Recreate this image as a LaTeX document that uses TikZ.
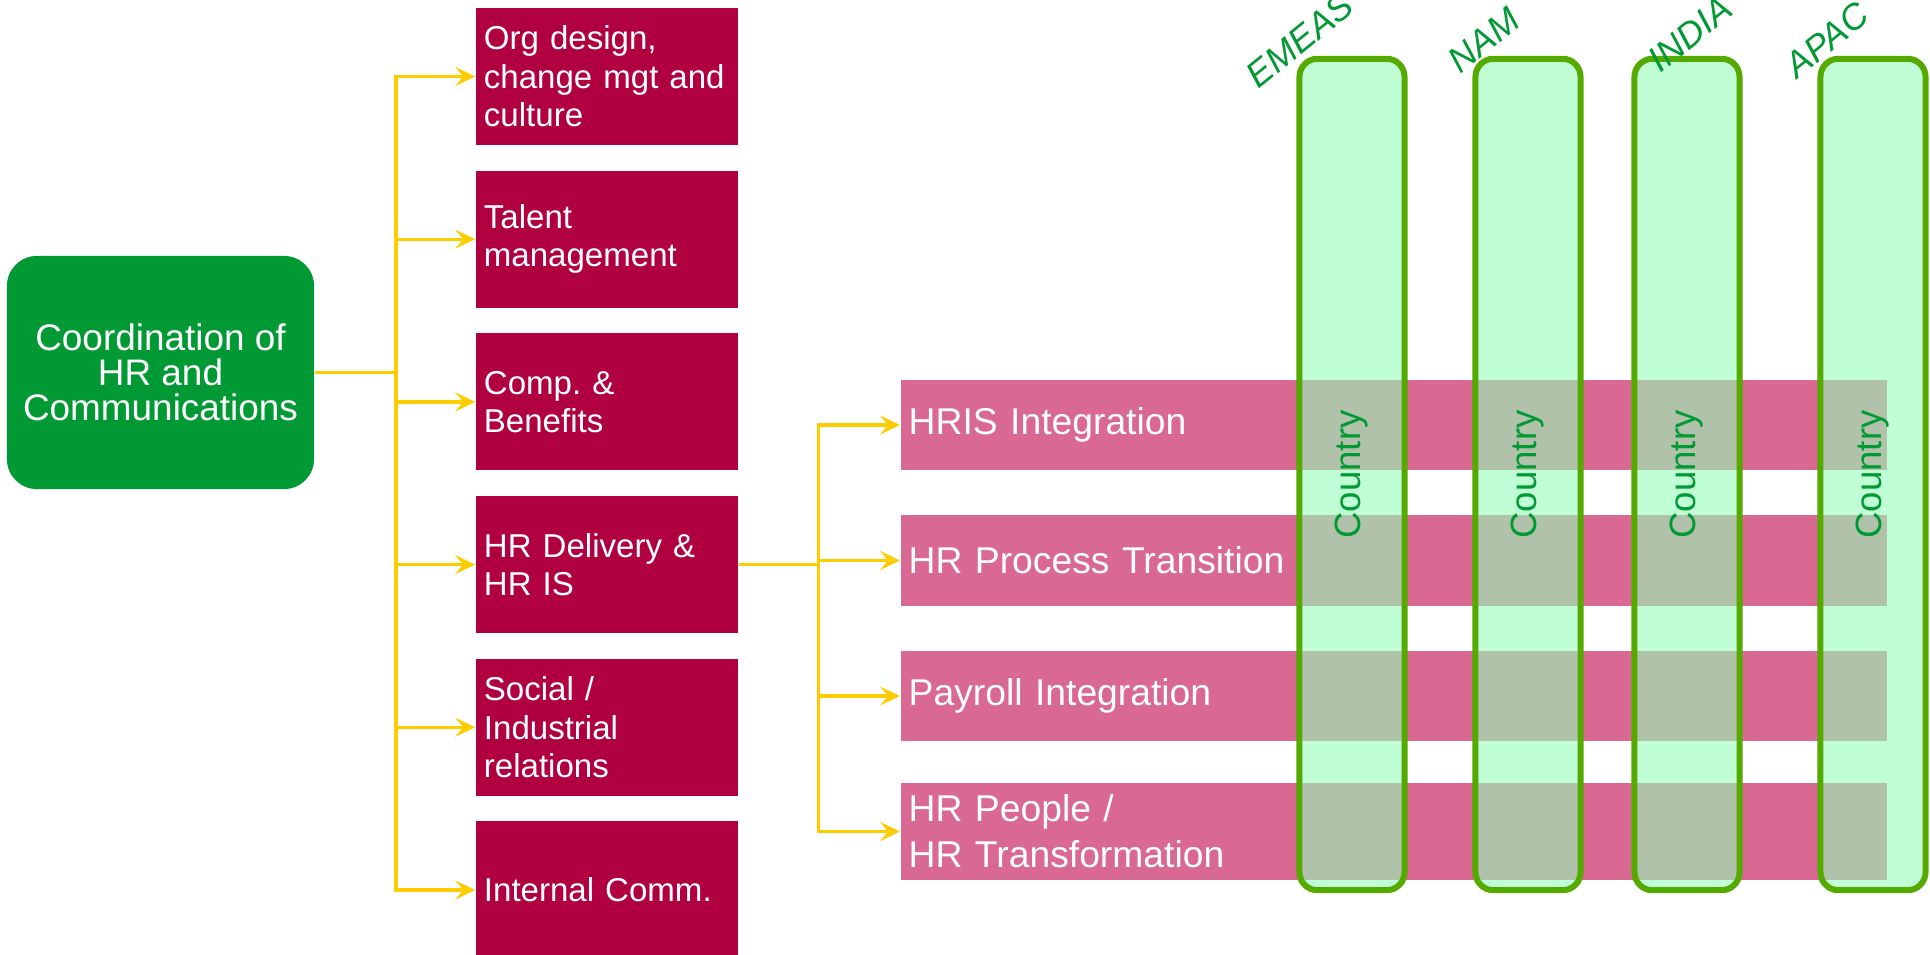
\documentclass[tikz,border=0pt]{standalone}
\usepackage{fontspec}
\setmainfont{Liberation Sans}
\usetikzlibrary{arrows.meta}
\definecolor{hrgreen}{RGB}{0,153,51}
\definecolor{boxred}{RGB}{176,0,64}
\definecolor{barpink}{RGB}{217,104,147}
\definecolor{colfill}{RGB}{150,255,185}
\definecolor{colline}{RGB}{85,170,0}
\definecolor{arrowyellow}{RGB}{255,204,0}
\frenchspacing
\begin{document}
\begin{tikzpicture}[x=0.01cm, y=-0.01cm,
	wire/.style={draw=arrowyellow, line width=0.033cm},
	feed/.style={wire, -{Stealth[length=0.2cm, width=0.19cm, inset=0.08cm]}},
	topic/.style={fill=boxred, text=white, minimum width=2.62cm, minimum height=1.37cm, text width=2.46cm, inner xsep=0.08cm, align=left, font=\fontsize{9.4}{10.95}\selectfont},
	stream/.style={fill=barpink, text=white, minimum width=9.86cm, minimum height=0.9cm, text width=9.7cm, inner xsep=0.08cm, align=left, font=\fontsize{10.6}{13}\selectfont},
	regioncol/.style={rotate=90, minimum width=8.31cm, minimum height=1.05cm, rounded corners=0.18cm, draw=colline, line width=0.06cm, fill=colfill, fill opacity=0.6, text opacity=1, text=hrgreen, font=\fontsize{10.4}{12}\selectfont},
	tag/.style={rotate=39, inner sep=0pt, text=hrgreen, font=\fontsize{10.2}{11}\selectfont\itshape}]
	\useasboundingbox (0,0) rectangle (1930,955);
	\node (hr) [rounded corners=0.3cm, fill=hrgreen, text=white, minimum width=3.07cm, minimum height=2.33cm, align=center, font=\fontsize{10.5}{10}\selectfont] at (160.5,372.5) {Coordination of\\HR and\\Communications};
	\foreach \i/\txt in {1/{Org design,\\change mgt and\\culture}, 2/{Talent\\management}, 3/{Comp. \&\\Benefits}, 4/{HR Delivery \&\\HR IS}, 5/{Social /\\Industrial\\relations}, 6/{Internal Comm.}} {
		\node (t\i) [topic] at (607, {76.5+162.7*(\i-1)}) {\txt};
	}
	\coordinate (hub) at (396,372.5);
	\draw[wire] (hr.east) -- (hub);
	\foreach \i in {1,...,6}
		\draw[feed] (hub) |- (t\i.west);
	\foreach \i/\txt in {1/{HRIS Integration}, 2/{HR Process Transition}, 3/{Payroll Integration}, 4/{HR People /\\HR Transformation}} {
		\node (s\i) [stream, anchor=west] at (900, {425+135.5*(\i-1)}) {\txt};
	}
	\coordinate (hub2) at ([xshift=0.8cm]t4.east);
	\draw[wire] (t4.east) -- (hub2);
	\foreach \i in {1,...,4}
		\draw[feed] (hub2) |- (s\i.west);
	\foreach \i/\x in {1/1352, 2/1528, 3/1687, 4/1873}
		\node (c\i) [regioncol] at (\x,474.5) {Country};
	\foreach \i/\reg/\x/\y in {1/EMEAS/1300/40, 2/NAM/1484/40, 3/INDIA/1690/34, 4/APAC/1827/40}
		\node (l\i) [tag] at (\x,\y) {\reg};
\end{tikzpicture}
\end{document}
